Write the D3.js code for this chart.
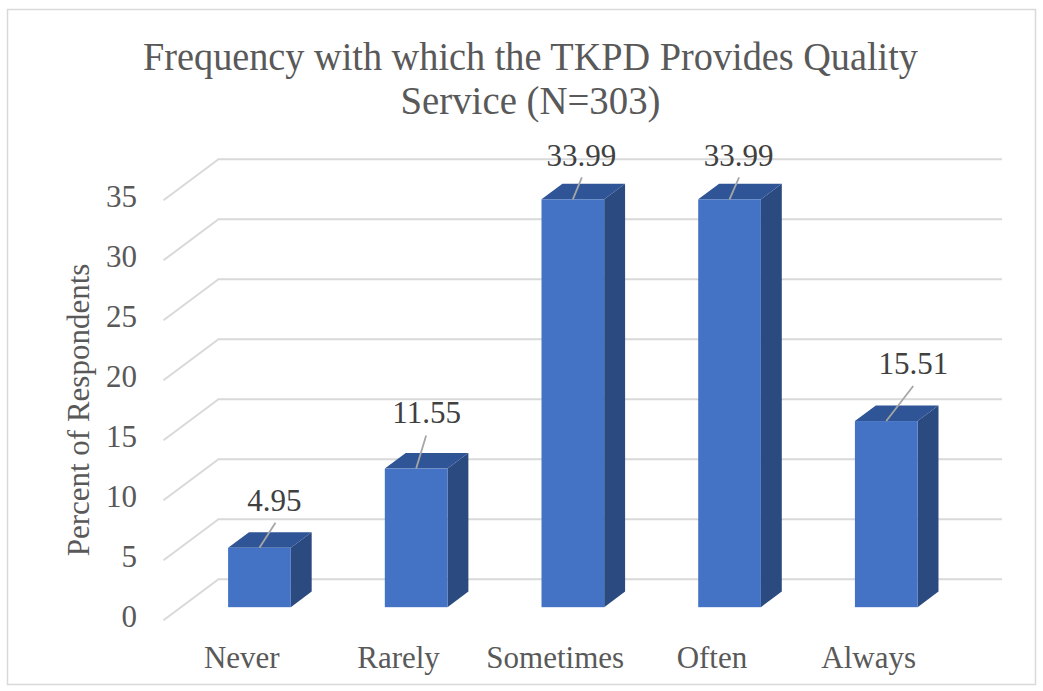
<!DOCTYPE html>
<html>
<head>
<meta charset="utf-8">
<script src="https://cdn.jsdelivr.net/npm/d3@7"></script>
</head>
<body style="margin:0">
<svg id="chart" width="1043" height="691"></svg>
<script>
// ---- data ----
const categories = ["Never", "Rarely", "Sometimes", "Often", "Always"];
const values = [4.95, 11.55, 33.99, 33.99, 15.51];
const valueLabels = ["4.95", "11.55", "33.99", "33.99", "15.51"];
const yTicks = [0, 5, 10, 15, 20, 25, 30, 35];
const titleLines = ["Frequency with which the TKPD Provides Quality", "Service (N=303)"];
const yAxisTitle = "Percent of Respondents";

// ---- layout (kept separate from data) ----
const FONT = "Liberation Serif";
const backLeft = 218.5, backRight = 1002;
const depthDX = -55, depthDY = 41;          // back wall -> front floor edge
const frontFrac = 0.68, backFrac = 0.30;    // bar front/back position in depth
// manual data-label nudges (Excel labels were dragged): [textDx, baselineDy, leaderDx, leaderDy]
const labelNudge = [[15, -37, 16, -25], [10.5, -46, 10, -33], [8.5, -33, 9, -22], [9, -33, 9.5, -22], [27, -47, 27, -35]];

const svg = d3.select("#chart");

function txt(parent) {
  return parent.append("text").attr("font-family", FONT).style("font-family", FONT);
}

// chart border
svg.append("rect").attr("x", 7.5).attr("y", 9.5).attr("width", 1028).attr("height", 675)
  .attr("fill", "#fff").attr("stroke", "#D9D9D9").attr("stroke-width", 1.5);

const x = d3.scaleBand().domain(categories).range([backLeft, backRight])
  .paddingInner(0.6).paddingOuter(0.3);
const y = d3.scaleLinear().domain([0, 35]).range([579.3, 159.3]);

// gridlines
const grid = svg.append("g");
yTicks.forEach(t => {
  const yb = y(t);
  grid.append("path")
    .attr("d", `M${backLeft + depthDX},${yb + depthDY}L${backLeft},${yb}L${backRight},${yb}`)
    .attr("fill", "none").attr("stroke", "#D9D9D9").attr("stroke-width", 2);
});

// y tick labels (front edge)
yTicks.forEach(t => {
  txt(svg).attr("fill", "#595959")
    .attr("x", 137).attr("y", y(t) + depthDY + 7)
    .attr("text-anchor", "end").attr("font-size", 31).text(t);
});

// bars
const bars = svg.append("g");
const fx = frontFrac * depthDX, fy = frontFrac * depthDY;
const bx = backFrac * depthDX, by = backFrac * depthDY;
categories.forEach((c, i) => {
  const x0 = x(c), x1 = x(c) + x.bandwidth();
  const y0 = y(0), y1 = y(values[i]);
  const F = { l: x0 + fx, r: x1 + fx, b: y0 + fy, t: y1 + fy };
  const B = { l: x0 + bx, r: x1 + bx, b: y0 + by, t: y1 + by };
  bars.append("path")
    .attr("d", `M${F.r},${F.t}L${B.r},${B.t}L${B.r},${B.b}L${F.r},${F.b}Z`)
    .attr("fill", "#2B4A80");
  bars.append("path")
    .attr("d", `M${F.l},${F.t}L${B.l},${B.t}L${B.r},${B.t}L${F.r},${F.t}Z`)
    .attr("fill", "#2F5597");
  bars.append("rect")
    .attr("x", F.l).attr("y", F.t).attr("width", F.r - F.l).attr("height", F.b - F.t)
    .attr("fill", "#4472C4");

  const cx = (F.l + F.r) / 2, ty = F.t;
  const n = labelNudge[i];
  bars.append("line")
    .attr("x1", cx).attr("y1", ty).attr("x2", cx + n[2]).attr("y2", ty + n[3])
    .attr("stroke", "#A6A6A6").attr("stroke-width", 1.8);
  txt(svg).attr("fill", "#404040")
    .attr("x", cx + n[0]).attr("y", ty + n[1])
    .attr("text-anchor", "middle").attr("font-size", 31)
    .text(valueLabels[i]);

  txt(svg).attr("fill", "#595959")
    .attr("x", x0 + x.bandwidth() / 2 + depthDX).attr("y", 668)
    .attr("text-anchor", "middle").attr("font-size", 31)
    .text(c);
});

// y axis title
txt(svg).attr("fill", "#595959")
  .attr("transform", "translate(89,410) rotate(-90)")
  .attr("text-anchor", "middle").attr("font-size", 31)
  .text(yAxisTitle);

// title
const titleY = [70, 114];
const titleW = [775, 260];
titleLines.forEach((t, i) => {
  txt(svg).attr("fill", "#595959")
    .attr("x", 530.5).attr("y", titleY[i])
    .attr("text-anchor", "middle").attr("font-size", 40)
    .attr("textLength", titleW[i]).attr("lengthAdjust", "spacingAndGlyphs")
    .text(t);
});
</script>
</body>
</html>
